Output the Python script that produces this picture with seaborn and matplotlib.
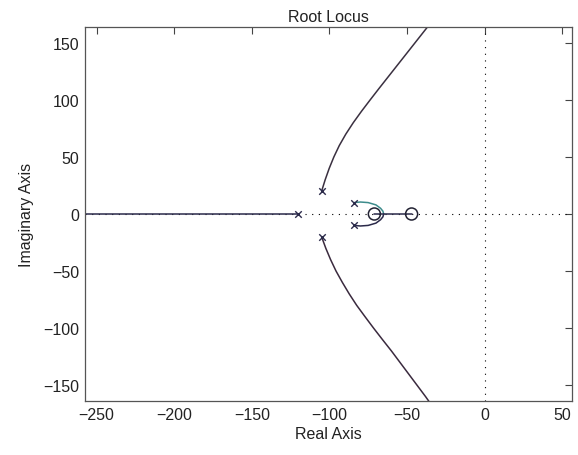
import pandas as pd
import matplotlib
matplotlib.use("Agg")
import matplotlib.pyplot as plt
import seaborn as sns

# open-loop poles and zeros
pole_re = [-120, -105, -105, -84, -84]
pole_im = [0, 20, -20, 10, -10]
zero_re = [-71, -47]
zero_im = [0, 0]

# locus branches
real_left_re = [-120, -300]
real_left_im = [0, 0]

upper_re = [-105, -102.7, -100.1, -97.1, -93.6, -89.4, -84.6, -79.3, -73.7,
            -68, -62.2, -56.4, -50.6, -44.8, -39, -33.2]
upper_im = [20, 30, 40, 50, 60, 70, 80, 90, 100, 110, 120, 130, 140, 150, 160, 170]
lower_re = [-105, -102.3, -99.2, -95.7, -91.6, -87.2, -82.4, -77, -71.5,
            -65.8, -60, -54.5, -49, -43.5, -38, -32.8]
lower_im = [-20, -30, -40, -50, -60, -70, -80, -90, -100, -110, -120, -130, -140, -150, -160, -170]

loop_up_re = [-84, -80, -75, -70, -67, -65.5, -65]
loop_up_im = [10, 10.5, 10, 8, 5, 2.5, 0]
loop_dn_re = [-84, -80, -75, -70, -67, -65.5, -65]
loop_dn_im = [-10, -10.5, -10, -8, -5, -2.5, 0]

between_re = [-71, -47]
between_im = [0, 0]

dark = '#2b2a4a'
teal = '#3d8c8c'

sns.set_style('white')
plt.rcParams['font.family'] = ['Liberation Sans', 'DejaVu Sans']

fig = plt.figure(figsize=(5.78, 4.56), dpi=100)
ax = fig.add_axes([0.147, 0.118, 0.843, 0.821])

# dotted axis lines
ax.axhline(0, color='black', linestyle=(0, (1, 5)), linewidth=0.8, zorder=1)
ax.axvline(0, color='black', linestyle=(0, (1, 5)), linewidth=0.8, zorder=1)

branches = [
    (real_left_re, real_left_im, dark),
    (upper_re, upper_im, '#3a3040'),
    (lower_re, lower_im, '#3a2a3e'),
    (loop_up_re, loop_up_im, teal),
    (loop_dn_re, loop_dn_im, dark),
    (between_re, between_im, dark),
]
for xs, ys, c in branches:
    d = pd.DataFrame({'re': xs, 'im': ys})
    sns.lineplot(data=d, x='re', y='im', sort=False, color=c, linewidth=1.1, ax=ax, zorder=2)

poles = pd.DataFrame({'re': pole_re, 'im': pole_im})
zeros = pd.DataFrame({'re': zero_re, 'im': zero_im})
sns.scatterplot(data=poles, x='re', y='im', marker='x', s=22, color=dark, linewidth=1.0, ax=ax, zorder=3)
ax.scatter(zeros['re'], zeros['im'], marker='o', s=75, facecolors='none', edgecolors='#222233',
           linewidths=1.1, zorder=3)

ax.set_xlim(-257.5, 56.5)
ax.set_ylim(-164, 164)
ax.set_xticks([-250, -200, -150, -100, -50, 0, 50])
ax.set_yticks([-150, -100, -50, 0, 50, 100, 150])

for s in ax.spines.values():
    s.set_color('#555555')
    s.set_linewidth(0.9)
    s.set_visible(True)

ax.tick_params(direction='in', length=5, width=0.8, color='#444444', labelsize=11.5,
               labelcolor='#222222', top=True, right=True, pad=4)

ax.set_title('Root Locus', fontsize=11.5, color='#222222', pad=4)
ax.set_xlabel('Real Axis', fontsize=11.5, color='#222222', labelpad=3)
ax.set_ylabel('Imaginary Axis', fontsize=11.5, color='#222222', labelpad=7)

fig.savefig('out.png', dpi=100)
